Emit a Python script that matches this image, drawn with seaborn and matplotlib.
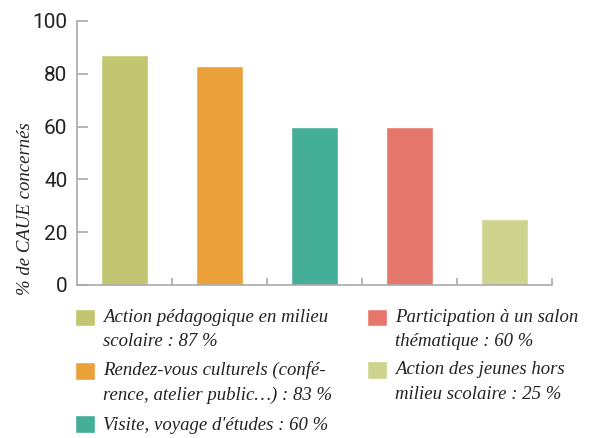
import matplotlib
matplotlib.use("Agg")
import matplotlib.pyplot as plt
from matplotlib.legend_handler import HandlerPatch
from matplotlib.patches import Rectangle
import seaborn as sns

# données
categories = [
    "Action pédagogique en milieu scolaire",
    "Rendez-vous culturels",
    "Visite, voyage d'études",
    "Participation à un salon thématique",
    "Action des jeunes hors milieu scolaire",
]
values = [87, 83, 60, 60, 25]
legend_labels = [
    "Action pédagogique en milieu\nscolaire : 87 %",
    "Rendez-vous culturels (confé-\nrence, atelier public…) : 83 %",
    "Visite, voyage d'études : 60 %",
    "Participation à un salon\nthématique : 60 %",
    "Action des jeunes hors\nmilieu scolaire : 25 %",
]
colors = ["#c2c670", "#eba13a", "#44ae96", "#e5766b", "#ced38e"]
yticks = [0, 20, 40, 60, 80, 100]

sns.set_style("white")
plt.rcParams["font.family"] = ["Roboto", "DejaVu Sans"]

fig = plt.figure(figsize=(6.14, 4.38), dpi=100)
ax = fig.add_axes([77 / 614, 1 - 285 / 438, 475 / 614, 264 / 438])

sns.barplot(x=categories, y=values, hue=categories, palette=colors,
            width=0.485, legend=False, saturation=1, ax=ax)

ax.set_xlim(-0.5, 4.5)
ax.set_ylim(0, 100)
ax.set_yticks(yticks)
ax.set_xticks([0.5, 1.5, 2.5, 3.5, 4.5])
ax.set_xticklabels([])
ax.set_xlabel("")

spine_col = "#a9a9a9"
for s in ["top", "right"]:
    ax.spines[s].set_visible(False)
for s in ["left", "bottom"]:
    ax.spines[s].set_color(spine_col)
    ax.spines[s].set_linewidth(1.2)

ax.tick_params(axis="y", direction="in", length=8, width=1.2, color=spine_col,
               labelsize=15, labelcolor="#222222", pad=7, left=True)
ax.tick_params(axis="x", direction="in", length=5, width=1.2, color=spine_col,
               bottom=True)

ax.set_ylabel("% de CAUE concernés", family="Liberation Serif", style="italic",
              fontsize=13.5, color="#222222")
ax.yaxis.set_label_coords(-0.108, 0.29, transform=ax.transAxes)
ax.yaxis.label.set_verticalalignment("center")


# carré de légende calé sur la première ligne du texte
def square(shift):
    def f(legend, orig_handle, xdescent, ydescent, width, height, fontsize):
        return Rectangle((-xdescent, -ydescent + shift), width, height)
    return f


handles = list(ax.patches[:5])
hmap = {}
for h, lab in zip(handles, legend_labels):
    shift = 8.6 if "\n" in lab else 0
    hmap[h] = HandlerPatch(patch_func=square(shift))

leg = fig.legend(handles, legend_labels, ncol=2, loc="upper left",
                 bbox_to_anchor=(75 / 614, 1 - 309 / 438), frameon=False,
                 prop={"family": "Liberation Serif", "style": "italic", "size": 13.5},
                 handler_map=hmap,
                 handlelength=1.05, handleheight=1.05, handletextpad=0.45,
                 labelspacing=0.6, columnspacing=1.87, borderpad=0, borderaxespad=0)
for t in leg.get_texts():
    t.set_linespacing(1.55)
    t.set_color("#222222")

fig.savefig("out.png", dpi=100)
